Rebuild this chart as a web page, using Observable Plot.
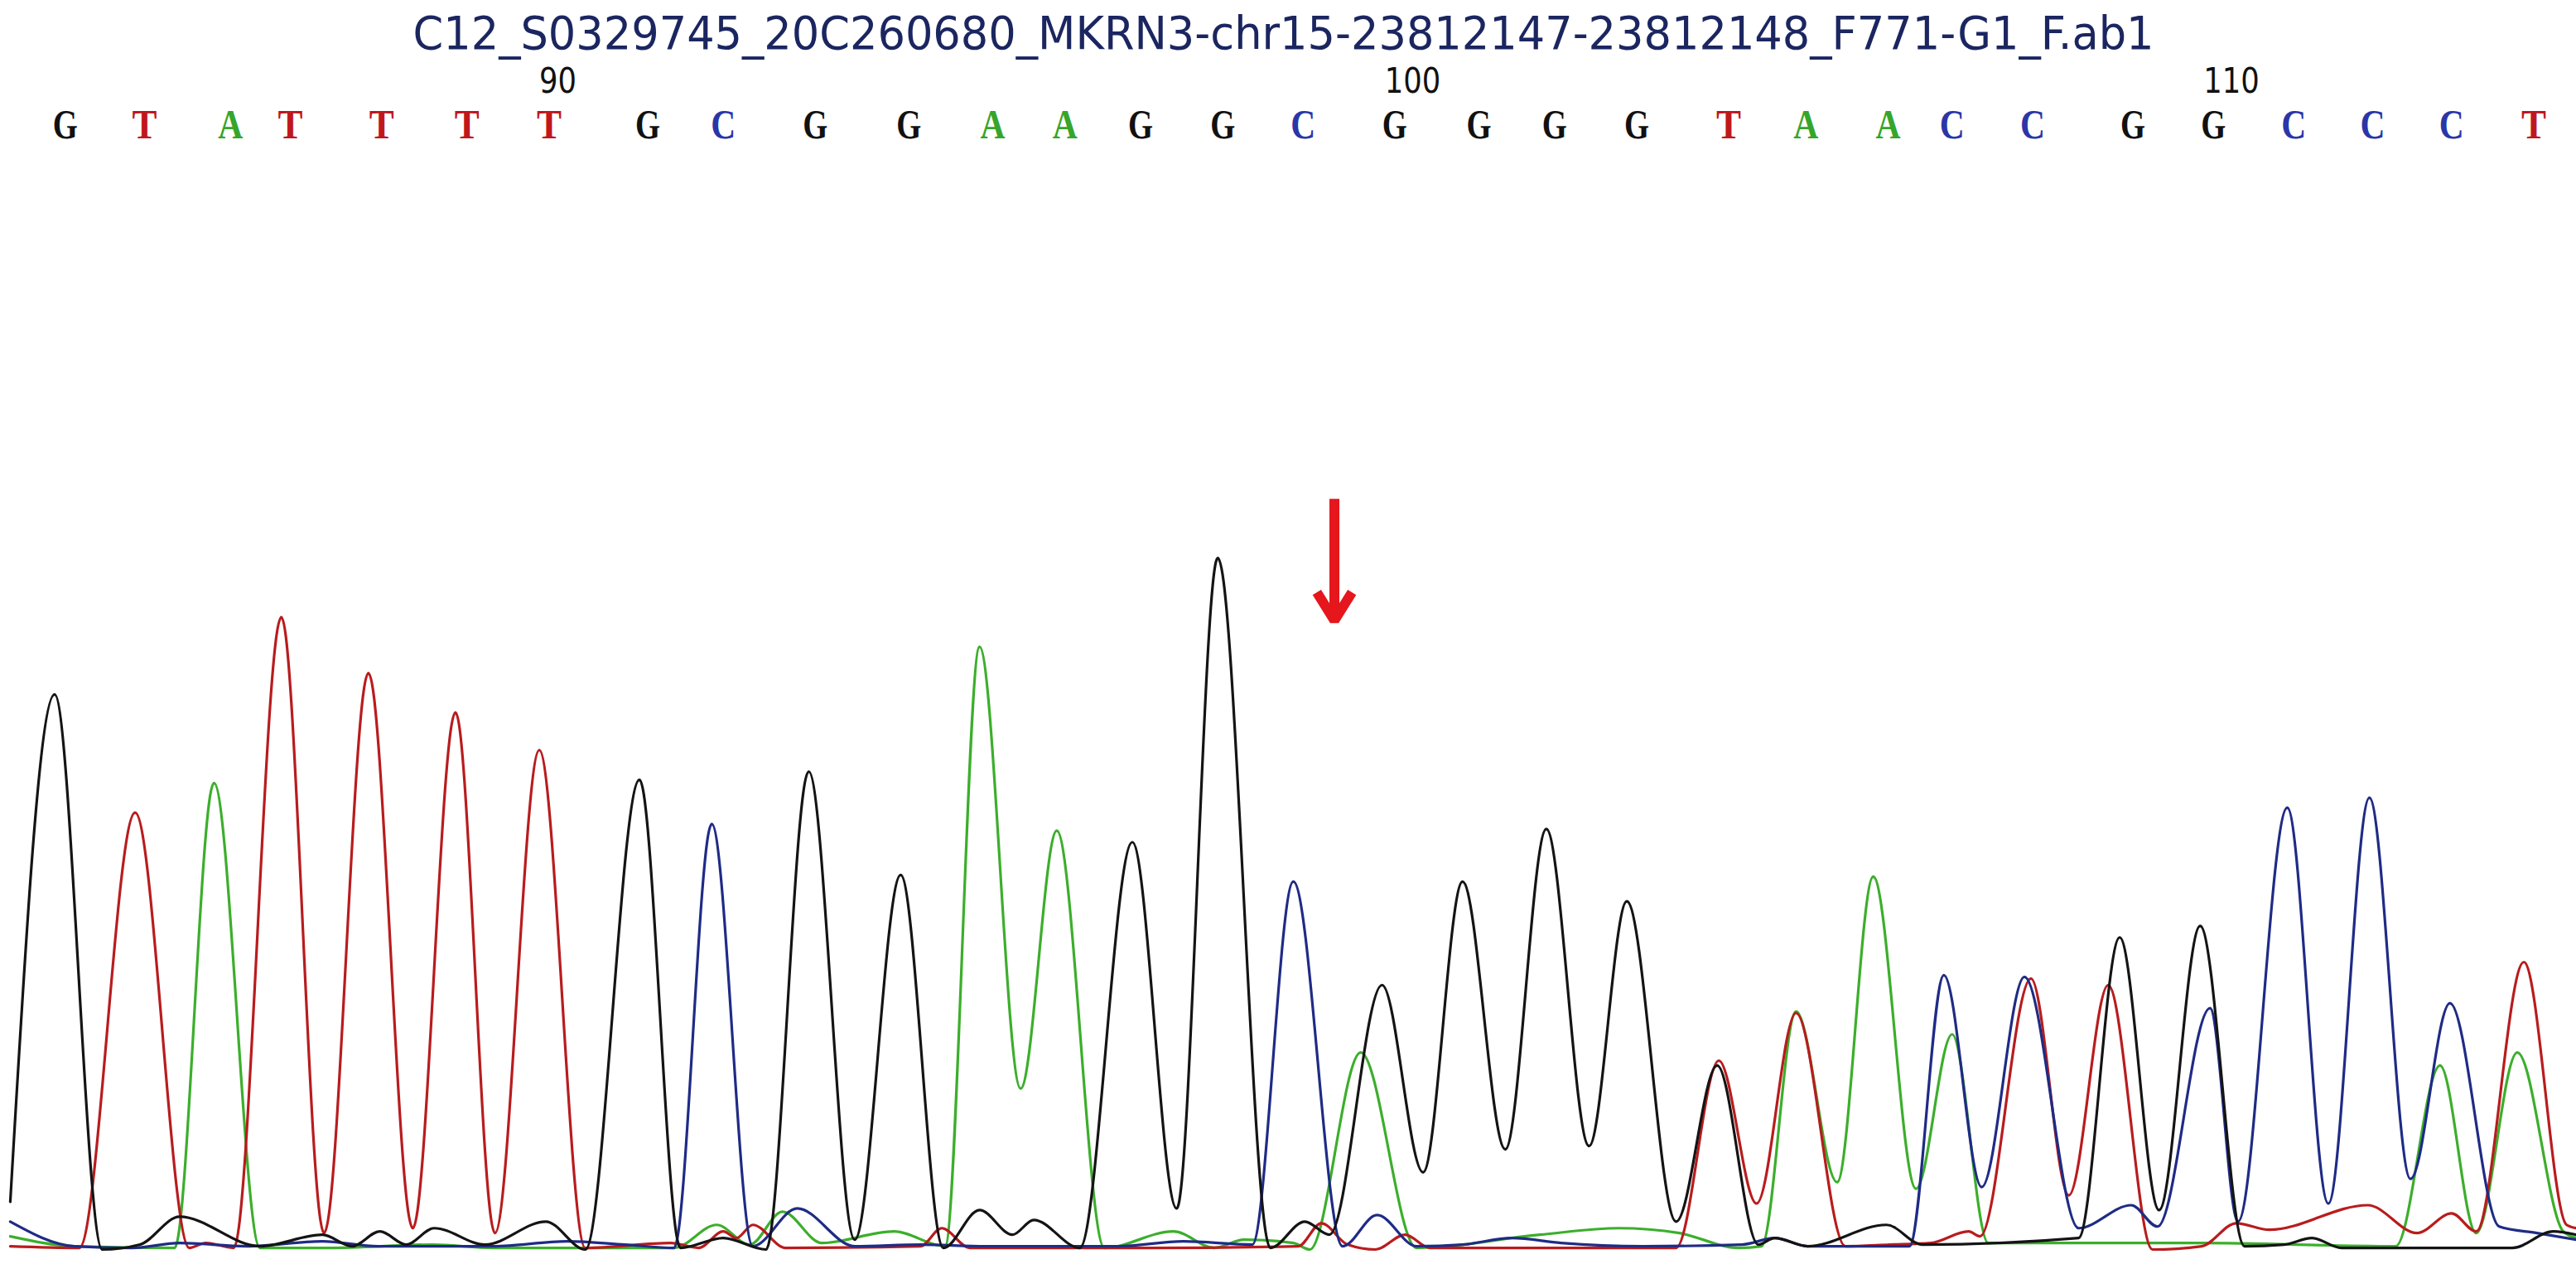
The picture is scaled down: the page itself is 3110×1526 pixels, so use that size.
<!DOCTYPE html>
<html>
<head>
<meta charset="utf-8">
<script src="https://cdn.jsdelivr.net/npm/d3@7"></script>
<script src="https://cdn.jsdelivr.net/npm/@observablehq/plot@0.6"></script>
<style>
html, body { margin: 0; padding: 0; background: #ffffff; }
#chart svg { display: block; }
</style>
</head>
<body>
<div id="chart"></div>
<script>
// ---- data ----
const title = "C12_S0329745_20C260680_MKRN3-chr15-23812147-23812148_F771-G1_F.ab1";

const firstBaseNumber = 84;
const baseCalls = ["G","T","A","T","T","T","T","G","C","G","G","A","A","G","G","C",
                   "G","G","G","G","T","A","A","C","C","G","G","C","C","C","T"];
const basePositions = [39.5,87.7,140,176.5,232,284,334,394,440,496,553,604,648,694,744,793,
                       848.7,900,946,996,1052,1099,1149,1188,1237,1298,1347,1396,1444,1492,1542];

const tickLabels = ["90", "100", "110"];
const tickBaseNumbers = [90, 100, 110];

// red arrow marking the variant position (scan position, signal top, signal tip)
const arrowX = [812];
const arrowTop = [458];
const arrowTip = [384];

// trace vertices per channel: [scan position, signal]
const traceA = [[6,9],[45,3],[106,2],[130,285],[158,2],[200,2],[263,4],[300,2],[410,2],[436,16],[456,4],[476,24],[500,5],[544,12],[575,3],[596,368],[621,99],[643,256],[672,2],[714,12],[739,2],[757,7],[787,5],[797,1],[828,121],[862,2],[937,10],[985,14],[1022,11],[1058,2],[1072,3],[1093,146],[1118,42],[1140,228],[1166,38],[1188,132],[1210,5],[1338,5],[1458,3],[1485,113],[1507,11],[1532,121],[1560,12],[1568,8]];

const traceC = [[6,18],[45,3],[80,2],[109,5],[150,3],[196,6],[230,3],[300,3],[345,6],[380,4],[410,2],[433,260],[458,3],[485,26],[520,3],[560,4],[600,3],[680,3],[720,6],[762,4],[787,225],[817,3],[838,22],[862,3],[890,4],[920,8],[950,5],[1000,3],[1060,4],[1080,8],[1100,3],[1162,3],[1183,168],[1206,39],[1232,167],[1265,14],[1297,28],[1313,15],[1345,148],[1362,18],[1392,270],[1417,29],[1442,276],[1467,44],[1491,151],[1521,15],[1544,11],[1568,7]];

const traceG = [[6,30],[33,339],[62,1],[85,4],[109,21],[158,3],[196,10],[214,3],[231,12],[247,4],[264,14],[295,4],[332,18],[356,1],[389,287],[414,2],[440,8],[466,1],[492,292],[520,7],[548,229],[574,2],[596,25],[616,10],[629,19],[657,2],[689,249],[716,26],[741,422],[773,2],[794,18],[809,10],[841,162],[866,48],[890,225],[916,62],[941,257],[967,64],[990,213],[1020,18],[1045,113],[1070,4],[1080,8],[1100,3],[1148,16],[1170,4],[1265,8],[1290,191],[1314,25],[1339,198],[1366,3],[1390,4],[1407,8],[1425,2],[1529,2],[1554,12],[1568,10]];

const traceT = [[6,3],[48,2],[82,267],[115,2],[125,5],[142,2],[171,386],[197,11],[224,352],[251,14],[277,328],[301,11],[328,305],[356,2],[408,5],[425,2],[440,12],[448,8],[458,16],[478,2],[560,3],[573,14],[590,2],[700,2],[790,3],[804,17],[820,4],[837,1],[855,10],[870,2],[1020,2],[1046,116],[1069,29],[1093,145],[1123,3],[1150,4],[1175,5],[1198,12],[1205,9],[1236,166],[1259,34],[1283,162],[1310,1],[1340,3],[1361,17],[1381,13],[1441,28],[1471,11],[1492,23],[1507,12],[1536,176],[1562,16],[1568,14]];

// ---- styling ----
const traceColor = {A: "#3cae2c", C: "#1f2b85", G: "#141414", T: "#b81c1e"};
const letterColor = {A: "#36a52b", C: "#2a36a8", G: "#111111", T: "#c0171d"};

const bases = baseCalls.map((b, i) => ({base: b, pos: basePositions[i], number: firstBaseNumber + i}));
const ticks = tickLabels.map((label, i) => ({label, pos: basePositions[tickBaseNumbers[i] - firstBaseNumber]}));
const arrows = arrowX.map((x, i) => ({x, top: arrowTop[i], tip: arrowTip[i]}));

const traceLine = (data, ch) => Plot.line(data, {
  x: d => d[0], y: d => d[1],
  stroke: traceColor[ch], strokeWidth: 3.2,
  curve: "monotone-x", strokeLinejoin: "round"
});

const chart = Plot.plot({
  width: 3110,
  height: 1526,
  margin: 0,
  x: {domain: [0, 1568], range: [0, 3110], axis: null},
  y: {domain: [0, 761.5], range: [1510, 0], axis: null},
  color: {type: "identity"},
  style: {background: "#ffffff", overflow: "visible"},
  marks: [
    traceLine(traceA, "A"),
    traceLine(traceT, "T"),
    traceLine(traceC, "C"),
    traceLine(traceG, "G"),
    Plot.text([title], {
      text: d => d, frameAnchor: "top", lineAnchor: "bottom",
      dy: 58, dx: -6, fontSize: 56, fill: "#1b2660",
      fontFamily: "'DejaVu Sans Condensed', 'DejaVu Sans', sans-serif"
    }),
    Plot.text(bases, {
      x: "pos", text: "base", fill: d => letterColor[d.base],
      frameAnchor: "top", lineAnchor: "bottom", dy: 166,
      fontSize: 50, fontWeight: "bold",
      fontFamily: "'Liberation Serif', 'DejaVu Serif', serif"
    }),
    Plot.text(ticks, {
      x: "pos", text: "label", fill: "#111111",
      frameAnchor: "top", lineAnchor: "bottom", dy: 111, dx: -12,
      textAnchor: "start", fontSize: 42,
      fontFamily: "'DejaVu Sans Condensed', 'DejaVu Sans', sans-serif"
    }),
    Plot.arrow(arrows, {
      x1: "x", x2: "x", y1: "top", y2: "tip",
      stroke: "#e5161c", strokeWidth: 12, headLength: 5, headAngle: 64,
      strokeLinejoin: "miter", strokeLinecap: "butt"
    })
  ]
});

// fit text widths to the reference's condensed lettering
chart.querySelectorAll("text").forEach(t => {
  const s = t.textContent;
  let len = null;
  if (s === title) len = 2102;
  else if (/^[ACGT]$/.test(s)) len = 30;
  else if (/^\d+$/.test(s)) len = s.length * 22.5;
  if (len) {
    t.setAttribute("textLength", len);
    t.setAttribute("lengthAdjust", "spacingAndGlyphs");
  }
});

document.getElementById("chart").appendChild(chart);
</script>
</body>
</html>
